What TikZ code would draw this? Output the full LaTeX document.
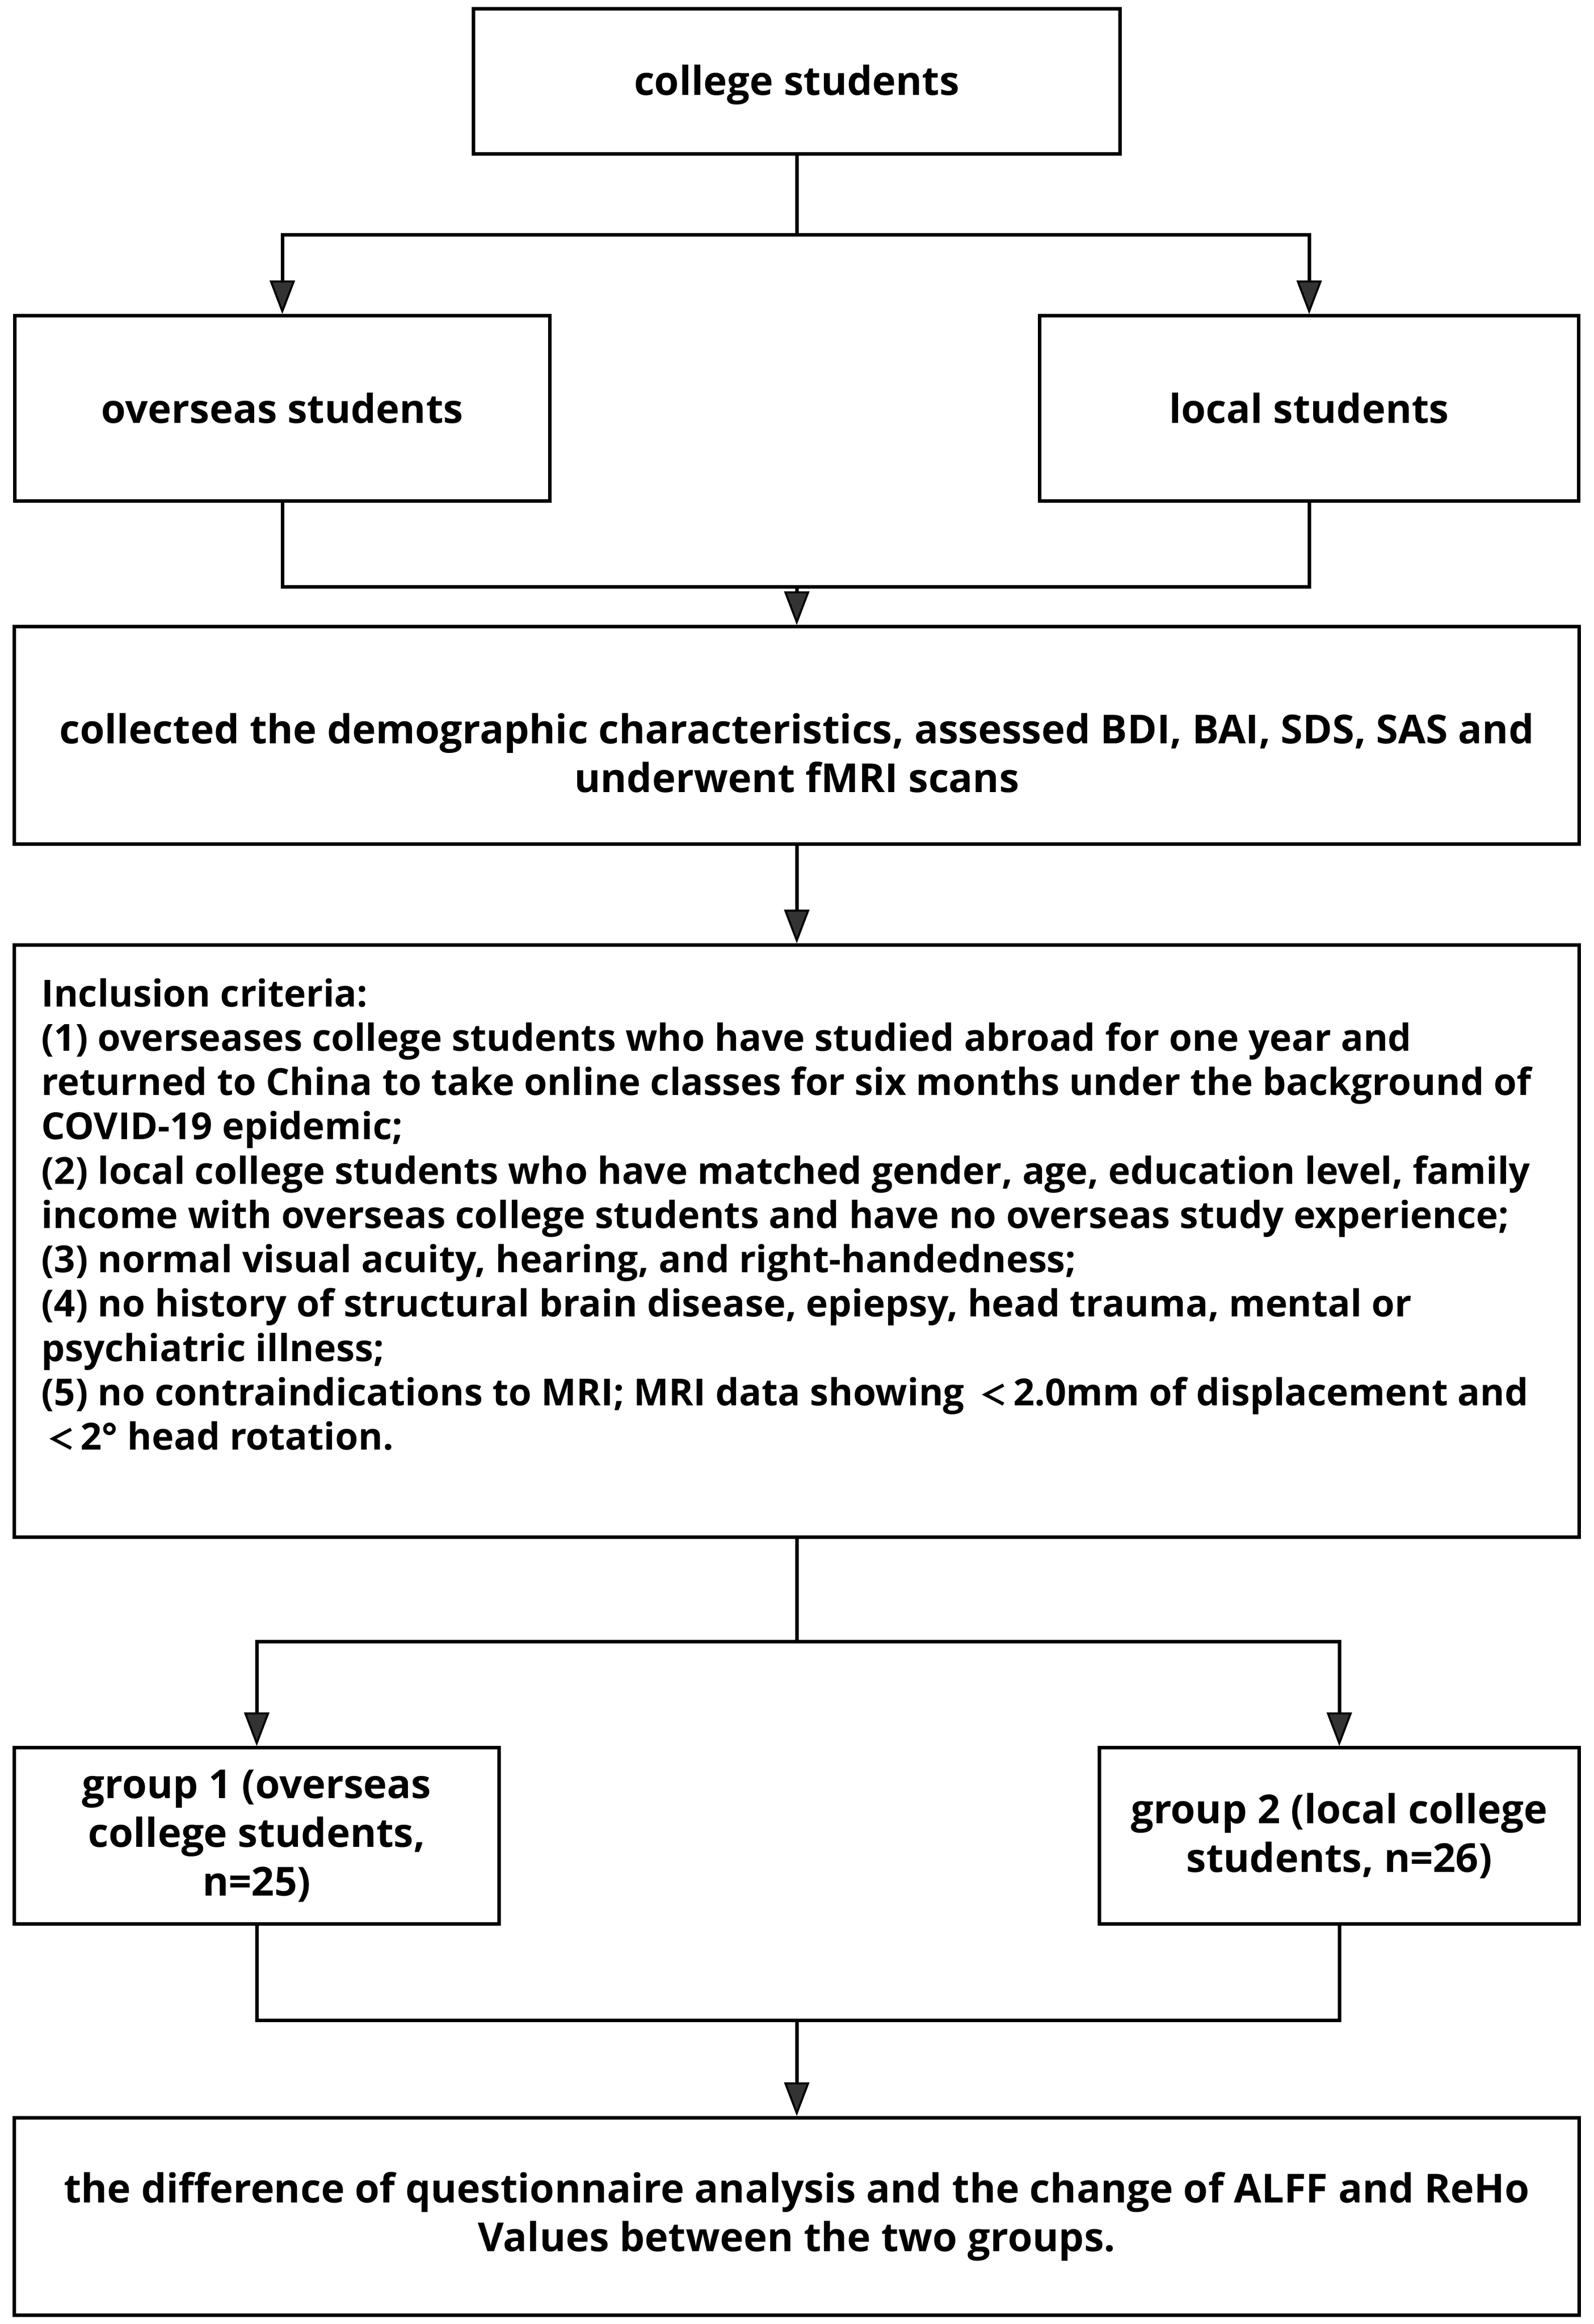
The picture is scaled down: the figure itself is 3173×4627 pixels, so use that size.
\documentclass[tikz,border=0pt]{standalone}
\usepackage{fontspec}
\setmainfont{Open Sans}
\newfontfamily\cjkfont{Noto Sans CJK SC}
\usepackage{tikz}
\usetikzlibrary{arrows.meta,positioning,calc}
\definecolor{tipgray}{HTML}{333333}
\newcommand{\fwlt}{\makebox[1.05em]{\cjkfont\fontsize{16pt}{16pt}\selectfont ＜}}

\begin{document}
\begin{tikzpicture}[
    x=0.01cm, y=-0.01cm,
    font=\fontsize{22.6pt}{27.6pt}\selectfont\bfseries,
    box/.style={draw, line width=0.07cm, rectangle, inner sep=0, align=center},
    link/.style={draw, line width=0.07cm},
    flow/.style={link, -{Triangle[length=0.67cm, width=0.5cm, fill=tipgray, line width=0.04cm]}}]
\useasboundingbox[fill=white] (0,0) rectangle (3173,4627);

% boxes
\node[box, minimum width=12.86cm, minimum height=2.88cm] (college) at (1586,162) {\rule{0pt}{0.75cm}college students};
\node[box, minimum width=10.64cm, minimum height=3.68cm] (overseas) at (562,813) {overseas students};
\node[box, minimum width=10.73cm, minimum height=3.68cm] (local) at (2606,813) {local students};
\node[box, minimum width=31.13cm, minimum height=4.32cm] (collect) at (1586,1464)
    {\rule{0pt}{1.3cm}collected the demographic characteristics, assessed BDI, BAI, SDS, SAS and\\ underwent fMRI scans};
\node[box, inner xsep=0.54cm, inner ysep=0.66cm, align=left] (criteria) at (1586,2471)
    {\begin{minipage}[t][10.46cm][t]{30.05cm}\fontsize{21.1pt}{25.1pt}\selectfont\raggedright
    Inclusion criteria:\\
    (1) overseases college students who have studied abroad for one year and\\
    returned to China to take online classes for six months under the background of\\
    COVID-19 epidemic;\\
    (2) local college students who have matched gender, age, education level, family\\
    income with overseas college students and have no overseas study experience;\\
    (3) normal visual acuity, hearing, and right-handedness;\\
    (4) no history of structural brain disease, epiepsy, head trauma, mental or\\
    psychiatric illness;\\
    (5) no contraindications to MRI; MRI data showing \fwlt2.0mm of displacement and\\
    \fwlt2° head rotation.
    \end{minipage}};
\node[box, minimum width=9.64cm, minimum height=3.5cm] (group1) at (511,3655)
    {group 1 (overseas\\ college students,\\ n=25)};
\node[box, minimum width=9.55cm, minimum height=3.5cm] (group2) at (2666,3655)
    {group 2 (local college\\ students, n=26)};
\node[box, minimum width=31.13cm, minimum height=3.93cm] (result) at (1586,4413)
    {the difference of questionnaire analysis and the change of ALFF and ReHo\\ Values between the two groups.};

% connectors
\coordinate (bus1) at (0,467);
\coordinate (bus2) at (0,1168);
\coordinate (bus3) at (0,3268);
\coordinate (bus4) at (0,4022);

\path[link] (college.south) -- (college.south |- bus1);
\path[flow] (college.south |- bus1) -| (overseas.north);
\path[flow] (college.south |- bus1) -| (local.north);

\path[link] (overseas.south) |- (local.south |- bus2) -- (local.south);
\path[flow] (collect.north |- bus2) -- (collect.north);

\path[flow] (collect.south) -- (criteria.north);

\path[link] (criteria.south) -- (criteria.south |- bus3);
\path[flow] (criteria.south |- bus3) -| (group1.north);
\path[flow] (criteria.south |- bus3) -| (group2.north);

\path[link] (group1.south) |- (group2.south |- bus4) -- (group2.south);
\path[flow] (result.north |- bus4) -- (result.north);

\end{tikzpicture}
\end{document}
